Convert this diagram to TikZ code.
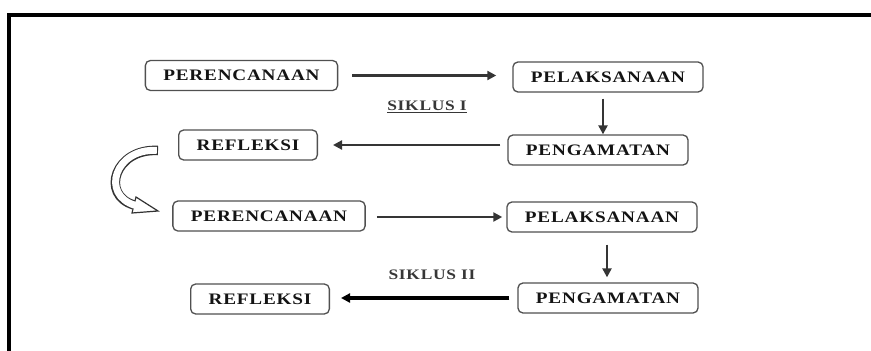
\documentclass[tikz,border=0pt]{standalone}
\usepackage{fontspec}
\setmainfont{Liberation Serif}
\newfontfamily\boxfont{Liberation Serif}[FakeStretch=1.2,LetterSpace=5]
\usetikzlibrary{arrows.meta}
\definecolor{ptkedge}{HTML}{505050}
\definecolor{ptkarrow}{HTML}{353535}
\definecolor{ptktext}{HTML}{141414}

\begin{document}
\begin{tikzpicture}[x=1pt,y=-1pt,
  st/.style={draw=ptkedge,line width=1.3pt,rounded corners=5pt,minimum height=30pt,
    inner xsep=18pt,inner ysep=2pt,font=\boxfont\bfseries\fontsize{16}{18}\selectfont,
    text=ptktext,fill=white},
  arr/.style={-{Triangle[length=9pt,width=9pt]},line width=2.2pt,ptkarrow},
  lbl/.style={font=\boxfont\bfseries\fontsize{14.5}{16}\selectfont,text=ptktext!85!white}]
  \useasboundingbox (0,0) rectangle (871,351);
  \draw[line width=4pt] (9,351) -- (9,15) -- (871,15);
  % siklus I
  \node[st] (plan1) at (241.5,75.5) {PERENCANAAN};
  \node[st] (act1)  at (608,77)     {PELAKSANAAN};
  \node[st] (obs1)  at (598,150)    {PENGAMATAN};
  \node[st] (refl1) at (248,145)    {REFLEKSI};
  \node[lbl] (cyc1) at (427,107) {\underline{SIKLUS I}};
  \draw[arr,shorten <=14pt,shorten >=16pt] (plan1.east) -- (plan1.east -| act1.west);
  \draw[arr,shorten <=6pt] ([xshift=-5pt]act1.south) -- ([xshift=5pt]obs1.north);
  \draw[arr,shorten <=7pt,shorten >=15pt] (obs1.west |- refl1.east) -- (refl1.east);
  % siklus II
  \node[st] (plan2) at (269,216) {PERENCANAAN};
  \node[st] (act2)  at (602,217) {PELAKSANAAN};
  \node[st] (obs2)  at (608,298) {PENGAMATAN};
  \node[st] (refl2) at (260,299) {REFLEKSI};
  \node[lbl] (cyc2) at (432,275) {SIKLUS II};
  \draw[arr,shorten <=11pt,shorten >=4pt] (plan2.east |- act2.west) -- (act2.west);
  \draw[arr,shorten <=12pt,shorten >=5pt] ([xshift=5pt]act2.south) -- ([xshift=-1pt]obs2.north);
  \draw[arr,line width=3.2pt,black,shorten <=8pt,shorten >=11pt] (obs2.west) -- (obs2.west -| refl2.east);
  % hollow bend from refl1 to plan2
  \coordinate (tl) at (158,150.5);
  \coordinate (hb) at (134,205);
  \draw[line width=9.5pt,black!80] (tl) .. controls (115,148) and (100,195) .. (hb);
  \draw[line width=1.2pt,black!80,fill=white,line join=miter] (158,211) -- (136,197) -- (132,213) -- cycle;
  \draw[line width=7pt,white,shorten <=1.2pt,shorten >=-1.5pt] (tl) .. controls (115,148) and (100,195) .. (hb);
\end{tikzpicture}
\end{document}
